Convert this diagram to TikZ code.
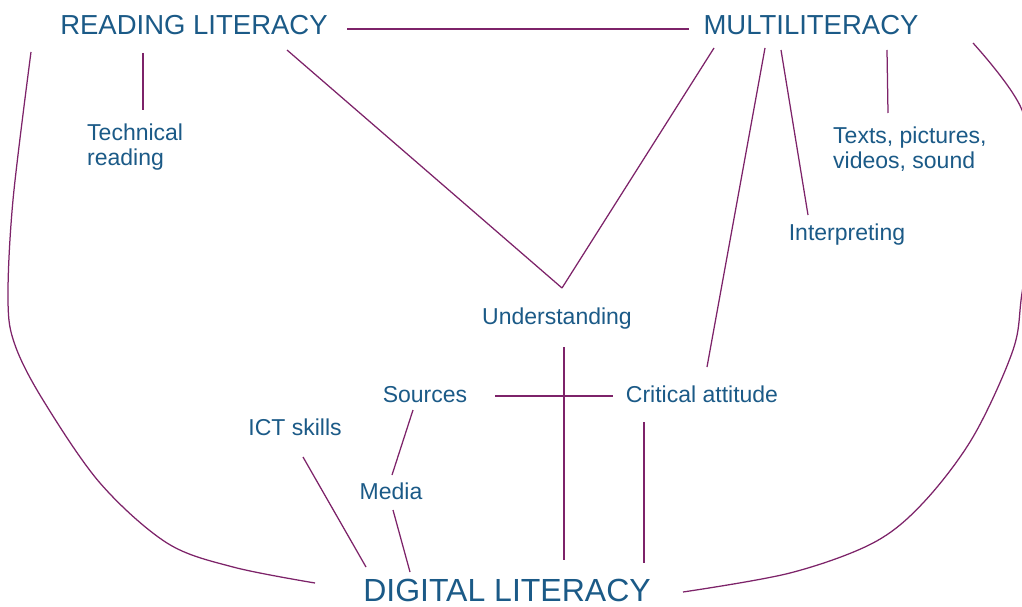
\documentclass[tikz,border=0pt]{standalone}
\usepackage{fontspec}
\setmainfont{Liberation Sans}
\definecolor{txtblue}{RGB}{27,90,135}
\definecolor{linkpurple}{RGB}{125,35,105}
\begin{document}
\begin{tikzpicture}[x=1pt,y=-1pt,
  big/.style={inner sep=0pt,text=txtblue,font=\fontsize{27.5}{33}\selectfont},
  huge/.style={inner sep=0pt,text=txtblue,font=\fontsize{32}{38}\selectfont},
  small/.style={inner sep=0pt,text=txtblue,font=\fontsize{23}{25}\selectfont},
  link/.style={draw=linkpurple,line width=1.25pt}]
\useasboundingbox (0,0) rectangle (1022,607);
\clip (0,0) rectangle (1022,607);
\fill[white] (0,0) rectangle (1022,607);

\node[big,anchor=base] (rl) at (194,35) {READING LITERACY};
\node[big,anchor=base] (ml) at (811,35) {MULTILITERACY};
\node[huge,anchor=base] (dl) at (507,601) {DIGITAL LITERACY};
\node[small,anchor=base west,align=left] (tech) at (87,165) {Technical\\reading};
\node[small,anchor=base west,align=left] (texts) at (833,168) {Texts, pictures,\\videos, sound};
\node[small,anchor=base] (interp) at (847,240) {Interpreting};
\node[small,anchor=base] (und) at (557,324) {Understanding};
\node[small,anchor=base] (src) at (425,402) {Sources};
\node[small,anchor=base] (crit) at (702,402) {Critical attitude};
\node[small,anchor=base] (ict) at (295,435) {ICT skills};
\node[small,anchor=base] (media) at (391,499) {Media};

\path[link] ([shift={(153,-6)}]rl.base) -- ([shift={(-122,-6)}]ml.base);
\path[link] ([shift={(-51,18)}]rl.base) -- ([shift={(56,-55)}]tech.base west);
\path[link] ([shift={(93,15)}]rl.base) -- ([shift={(5,-36)}]und.base);
\path[link] ([shift={(-97,13)}]ml.base) -- ([shift={(5,-36)}]und.base);
\path[link] ([shift={(-46,13)}]ml.base) -- ([shift={(5,-35)}]crit.base);
\path[link] ([shift={(-30,15)}]ml.base) -- ([shift={(-39,-25)}]interp.base);
\path[link] ([shift={(76,15)}]ml.base) -- ([shift={(55,-55)}]texts.base west);
\path[link] ([shift={(7,23)}]und.base) -- ([shift={(57,-41)}]dl.base);
\path[link] ([shift={(70,-6)}]src.base) -- ([shift={(-89,-6)}]crit.base);
\path[link] ([shift={(-58,20)}]crit.base) -- ([shift={(137,-38)}]dl.base);
\path[link] ([shift={(-12,8)}]src.base) -- ([shift={(1,-24)}]media.base);
\path[link] ([shift={(2,11)}]media.base) -- ([shift={(-97,-29)}]dl.base);
\path[link] ([shift={(8,22)}]ict.base) -- ([shift={(-141,-34)}]dl.base);

% big outer curves
\path[link] plot[smooth,tension=0.55] coordinates {([shift={(-163,17)}]rl.base) (13,200) (8,300) (15,345) (43,400) (100,483) (167,543) (233,567) ([shift={(-192,-18)}]dl.base)};
\path[link] plot[smooth,tension=0.55] coordinates {([shift={(162,8)}]ml.base) (1022,110) (1036,200) (1022,293) (1013,350) (973,437) (923,503) (873,543) (790,573) ([shift={(176,-9)}]dl.base)};
\end{tikzpicture}
\end{document}
